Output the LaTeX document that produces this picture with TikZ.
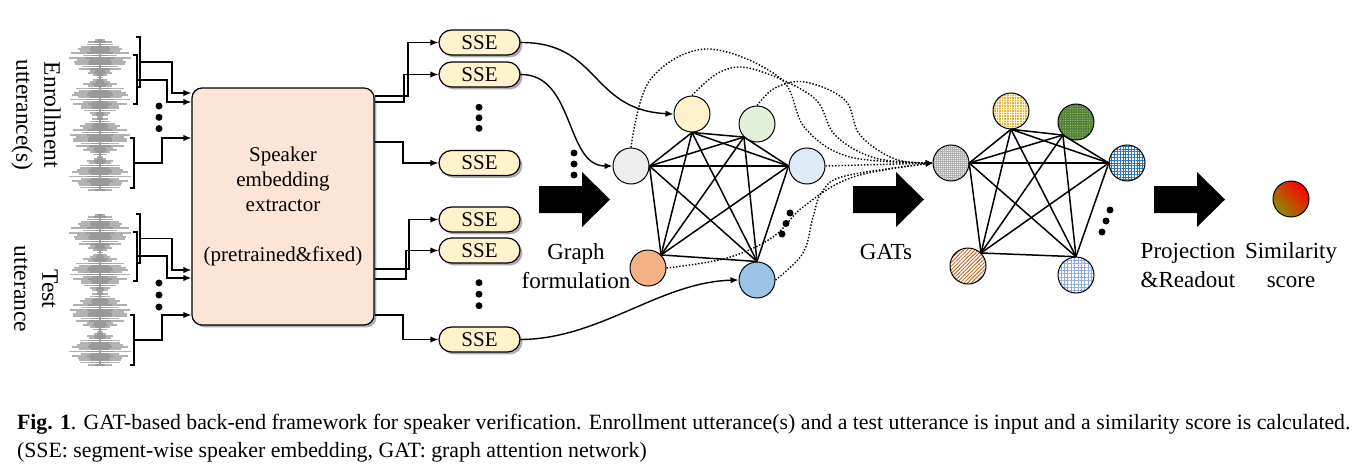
\documentclass[tikz,border=0pt]{standalone}
\usepackage{fontspec}
\setmainfont{Liberation Serif}
\usetikzlibrary{shapes,arrows.meta,positioning,shadows,calc,patterns.meta}

\definecolor{peach}{HTML}{FBE5D6}
\definecolor{cream}{HTML}{FFF2CC}
\definecolor{paleGray}{HTML}{EDEDED}
\definecolor{paleGreen}{HTML}{E2F0D9}
\definecolor{paleSky}{HTML}{DEEBF7}
\definecolor{softOrange}{HTML}{F4B183}
\definecolor{softBlue}{HTML}{9DC3E6}
\definecolor{sand}{HTML}{D9B44A}
\definecolor{leaf}{HTML}{548235}
\definecolor{ocean}{HTML}{2E75B6}
\definecolor{rust}{HTML}{C55A11}
\definecolor{mist}{HTML}{8FAADC}

\tikzset{
    conn/.style={line width=0.7pt, -{Latex[length=4pt,width=3.2pt]}},
    shadowed/.style={drop shadow={shadow xshift=1.2pt, shadow yshift=-1.2pt, fill=gray!65, opacity=1}},
    ssebox/.style={rounded rectangle, draw, line width=0.6pt, fill=cream, minimum width=40.5pt, minimum height=12.5pt, inner sep=0pt, font=\fontsize{10.5pt}{12pt}\selectfont, shadowed},
    vert/.style={circle, draw, line width=0.5pt, minimum size=18pt, inner sep=0pt},
    link/.style={line width=0.75pt},
    flow/.style={line width=0.7pt, dash pattern=on 0.7pt off 0.9pt, -{Latex[length=3.5pt,width=3pt]}},
    lbl/.style={align=center, font=\fontsize{11.5pt}{14.5pt}\selectfont},
    side/.style={align=center, font=\fontsize{11.8pt}{14pt}\selectfont, rotate=-90},
    brk/.style={line width=0.6pt},
}

\newcommand{\drawwave}[2]{%
    \draw[gray!75, line width=0.6pt] (#1,#2) -- (#1,#2+150);
    \foreach \k in {0,...,68}{
        \pgfmathsetmacro{\w}{3+28*abs(sin(\k*10+10))*(0.5+0.5*abs(sin(\k*77)))}
        \draw[gray!60, line width=0.9pt] (#1-\w,#2+\k*2.2) -- (#1+\w,#2+\k*2.2);
        \draw[gray!80, line width=0.9pt] (#1-0.45*\w,#2+\k*2.2) -- (#1+0.45*\w,#2+\k*2.2);
    }
}
\newcommand{\threedots}[4]{%
    \foreach \d in {0,1,2} \fill (#1+\d*#3,#2+\d*#4) circle (1.75pt);
}
\newcommand{\fatarrow}[1]{%
    \fill[shift={(#1,0)}] (0,186) -- (43,186) -- (43,172) -- (71,199.5) -- (43,227) -- (43,213) -- (0,213) -- cycle;
}

\begin{document}
\begin{tikzpicture}[x=0.5pt, y=-0.5pt]
    \useasboundingbox (0,0) rectangle (1364,471);

    \drawwave{100}{40}
    \drawwave{100}{215}
    \node[side] (enroll) at (36,115) {Enrollment\\utterance(s)};
    \node[side] (test) at (36,289) {Test\\utterance};

    \node[rectangle, draw, rounded corners=5pt, fill=peach, line width=0.6pt, minimum width=91pt, minimum height=118.5pt, align=center, font=\fontsize{10.5pt}{12.5pt}\selectfont, shadowed] (extractor) at (283,206.5) {Speaker\\embedding\\extractor\\[12.5pt](pretrained\&fixed)};

    % segments of the utterances
    \draw[brk] (136,37) -| (140,87) -- (136,87);
    \draw[brk] (133,55) -| (137,104) -- (133,104);
    \draw[brk] (130,138) -| (134,188) -- (130,188);
    \draw[brk] (136,214) -| (140,263) -- (136,263);
    \draw[brk] (133,232) -| (137,281) -- (133,281);
    \draw[brk] (130,315) -| (134,365) -- (130,365);
    \coordinate (e1) at (140,62);
    \coordinate (e2) at (137,80);
    \coordinate (e3) at (134,163);
    \coordinate (t1) at (140,238.5);
    \coordinate (t2) at (137,256);
    \coordinate (t3) at (134,340);
    \draw[conn] (e1) -- (172,62) |- (extractor.west |- 0,93);
    \draw[conn] (e2) -- (167,80) |- (extractor.west |- 0,102);
    \draw[conn] (e3) -- (162,163) |- (extractor.west |- 0,138);
    \draw[conn] (t1) -- (172,238.5) |- (extractor.west |- 0,270);
    \draw[conn] (t2) -- (167,256) |- (extractor.west |- 0,278);
    \draw[conn] (t3) -- (162,340) |- (extractor.west |- 0,315);
    \threedots{159}{106}{0}{11.3}
    \threedots{159}{283}{0}{12}

    \node[ssebox] (sse1) at (479.5,42.5) {SSE};
    \node[ssebox] (sse2) at (479.5,74.5) {SSE};
    \node[ssebox] (sse3) at (479.5,163) {SSE};
    \node[ssebox] (sse4) at (479.5,219.5) {SSE};
    \node[ssebox] (sse5) at (479.5,250.5) {SSE};
    \node[ssebox] (sse6) at (479.5,339.5) {SSE};
    \threedots{479}{107.3}{0}{10.5}
    \threedots{479}{282.7}{0}{11.5}
    \draw[conn] (extractor.east |- 0,96) -- (408,96) |- (sse1.west);
    \draw[conn] (extractor.east |- 0,102) -- (404,102) |- (sse2.west);
    \draw[conn] (extractor.east |- 0,142) -- (403,142) |- (sse3.west);
    \draw[conn] (extractor.east |- 0,269) -- (409,269) |- (sse4.west);
    \draw[conn] (extractor.east |- 0,279) -- (406,279) |- (sse5.west);
    \draw[conn] (extractor.east |- 0,315) -- (403,315) |- (sse6.west);

    % input graph
    \node[vert, fill=paleGray] (gray1) at (631,166) {};
    \node[vert, fill=cream] (yellow1) at (692,114) {};
    \node[vert, fill=paleGreen] (green1) at (757,124) {};
    \node[vert, fill=paleSky] (sky1) at (807,166) {};
    \node[vert, fill=softOrange] (orange1) at (648,268) {};
    \node[vert, fill=softBlue] (blue1) at (757,280) {};
    \coordinate (a1) at (gray1.east);
    \coordinate (a2) at (yellow1.south);
    \coordinate (a3) at (green1.south west);
    \coordinate (a4) at (sky1.west);
    \coordinate (a5) at (orange1.north east);
    \coordinate (a6) at (blue1.north);
    \threedots{574}{153}{0}{11}
    \threedots{790}{213}{-4}{10.5}

    \draw[conn] (sse1.east) .. controls (600,42) and (590,110) .. (yellow1.west);
    \draw[conn] (sse2.east) .. controls (575,74) and (565,166) .. (gray1.west);
    \draw[conn] (sse6.east) .. controls (600,339) and (660,282) .. (blue1.west);

    % attended graph
    \node[vert, preaction={fill=gray!15}, pattern={Hatch[angle=0,distance=1pt,line width=0.2pt]}, pattern color=gray!60] (gray2) at (951,163) {};
    \node[vert, preaction={fill=sand}, pattern={Hatch[angle=0,distance=1.3pt,line width=0.3pt]}, pattern color=cream] (yellow2) at (1011,111) {};
    \node[vert, preaction={fill=leaf}, pattern={Dots[distance=1.2pt,radius=0.25pt]}, pattern color=paleGreen!70!leaf] (green2) at (1076,122) {};
    \node[vert, preaction={fill=white}, pattern={Hatch[angle=0,distance=1.4pt,line width=0.3pt]}, pattern color=ocean] (sky2) at (1127,163) {};
    \node[vert, preaction={fill=white}, pattern={Lines[angle=45,distance=1.3pt,line width=0.4pt]}, pattern color=rust] (brown2) at (968,266) {};
    \node[vert, preaction={fill=white}, pattern={Hatch[angle=0,distance=1.7pt,line width=0.3pt]}, pattern color=mist] (blue2) at (1076,275) {};
    \coordinate (b1) at (gray2.east);
    \coordinate (b2) at (yellow2.south);
    \coordinate (b3) at (green2.south west);
    \coordinate (b4) at (sky2.west);
    \coordinate (b5) at (brown2.north east);
    \coordinate (b6) at (blue2.north);
    \threedots{1110}{210}{-4}{11}

    \foreach \g in {a,b}
        \foreach \i [evaluate=\i as \s using int(\i+1)] in {1,...,5}
            \foreach \j in {\s,...,6}
                \draw[link] (\g\i) -- (\g\j);

    \draw[flow] plot[smooth, tension=0.6] coordinates {(gray1.north) (650,80) (707,49) (780,78) (805,128) (850,157) (gray2.west)};
    \draw[flow] plot[smooth, tension=0.6] coordinates {(yellow1.north) (720,72) (753,69) (813,97) (835,135) (875,158) (gray2.west)};
    \draw[flow] plot[smooth, tension=0.6] coordinates {(green1.north) (775,88) (805,82) (845,100) (860,135) (895,159) (gray2.west)};
    \draw[flow] (sky1.east) -- (gray2.west);
    \draw[flow] plot[smooth, tension=0.6] coordinates {(orange1.east) (727,258) (773,237) (803,207) (853,177) (gray2.west)};
    \draw[flow] plot[smooth, tension=0.6] coordinates {(blue1.east) (803,253) (813,217) (822,192) (845,176) (gray2.west)};

    \fatarrow{539}
    \fatarrow{853}
    \fatarrow{1154}
    \node[lbl] (formLbl) at (576,266) {Graph\\formulation};
    \node[lbl] (gatLbl) at (886,252) {GATs};
    \node[lbl] (readLbl) at (1188,265) {Projection\\\&Readout};
    \node[lbl] (scoreLbl) at (1291,265) {Similarity\\score};

    \node[vert, left color={rgb,255:red,140;green,140;blue,0}, middle color={rgb,255:red,205;green,150;blue,0}, right color=red, shading angle=135] (score) at (1291,199) {};

    \node[anchor=base west, font=\fontsize{10.9pt}{13pt}\selectfont] (cap1) at (10,429) {\textbf{Fig. 1}. GAT-based back-end framework for speaker verification. Enrollment utterance(s) and a test utterance is input and a similarity score is calculated.};
    \node[anchor=base west, font=\fontsize{10.9pt}{13pt}\selectfont] (cap2) at (10,457) {(SSE: segment-wise speaker embedding, GAT: graph attention network)};
\end{tikzpicture}
\end{document}
